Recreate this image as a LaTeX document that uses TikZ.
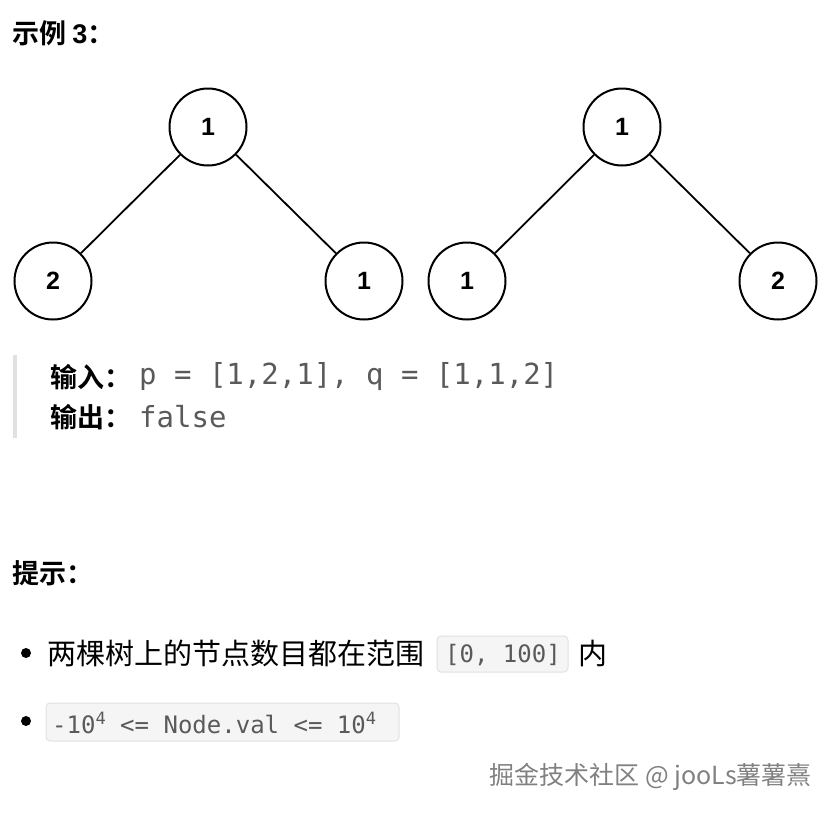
\documentclass[tikz,border=0pt]{standalone}
\usepackage{fontspec}
\setmainfont{Liberation Sans}
\setmonofont{DejaVu Sans Mono}
\newfontfamily\cjk{Noto Sans CJK SC}
\newfontfamily\cjkb{Noto Sans CJK SC Bold}
\definecolor{codegray}{RGB}{90,90,90}
\definecolor{boxbg}{RGB}{245,245,245}
\definecolor{boxline}{RGB}{225,225,225}
\begin{document}
\begin{tikzpicture}[x=1pt,y=-1pt,
  tn/.style={circle,draw,line width=2pt,minimum size=77pt,inner sep=0pt,font=\fontsize{25}{27}\selectfont\bfseries},
  ed/.style={line width=1.8pt},
  hd/.style={anchor=west,inner sep=0pt,font=\fontsize{27}{30}\selectfont\cjkb},
  code/.style={anchor=west,inner sep=0pt,font=\fontsize{29}{32}\selectfont\ttfamily,text=codegray},
  cbox/.style={draw=boxline,fill=boxbg,rounded corners=4pt,line width=1pt},
  body/.style={anchor=west,inner sep=0pt,font=\fontsize{29}{32}\selectfont\cjk}]
\useasboundingbox (0,0) rectangle (835,815);
\node[hd] (t1) at (12,33) {示例 \fontspec{Liberation Sans Bold}3\cjkb：};
\node[tn] (a) at (208,127) {1};
\node[tn] (b) at (53,281) {2};
\node[tn] (c) at (364,281) {1};
\draw[ed] (a) -- (b); \draw[ed] (a) -- (c);
\node[tn] (d) at (622,127) {1};
\node[tn] (e) at (467,281) {1};
\node[tn] (f) at (778,281) {2};
\draw[ed] (d) -- (e); \draw[ed] (d) -- (f);
\fill[boxline] (13,355) rectangle (17,438);
\node[hd] (in) at (50,377) {输入：};
\node[code] (inv) at (139,377) {p = [1,2,1], q = [1,1,2]};
\node[hd] (out) at (50,417) {输出：};
\node[code] (outv) at (139,417) {false};
\node[hd] (t2) at (12,573) {提示：};
\fill (26,653) circle (5);
\node[body] (l1) at (47,653) {两棵树上的节点数目都在范围};
\draw[cbox] (437,636) rectangle (568,672);
\node[code,font=\fontsize{24}{26}\selectfont\ttfamily] (r) at (445,655) {[0, 100]};
\node[body] (l1b) at (578,653) {内};
\fill (26,721) circle (5);
\draw[cbox] (46,703) rectangle (399,741);
\node[code,font=\fontsize{24}{26}\selectfont\ttfamily] (r2) at (52,723) {-10\raisebox{9pt}{\fontsize{17}{18}\selectfont 4} <= Node.val <= 10\raisebox{9pt}{\fontsize{17}{18}\selectfont 4}};
\node[anchor=east,inner sep=0pt,text=gray,font=\fontsize{25}{27}\selectfont\cjk] (wm) at (812,777) {掘金技术社区 @ jooLs薯薯熹};
\end{tikzpicture}
\end{document}
